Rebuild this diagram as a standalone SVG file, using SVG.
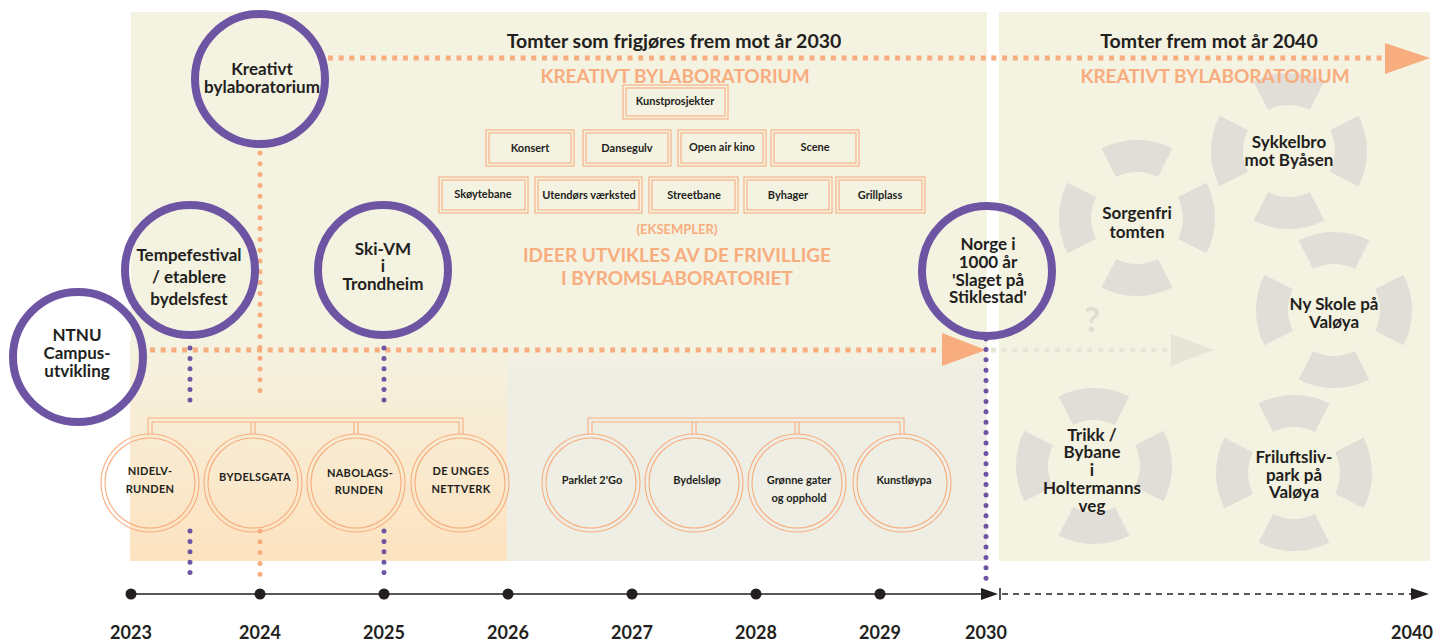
<svg xmlns="http://www.w3.org/2000/svg" width="1446" height="641" viewBox="0 0 1446 641">
<defs>
<style>
.t{font-family:Lato,"Liberation Sans",sans-serif;font-weight:700;fill:#231f20;text-anchor:middle}
.big{font-size:17px}
.ring{font-size:17px}
.box{font-size:11px}
.cap{font-size:11px;letter-spacing:0.3px}
.or{font-family:Lato,"Liberation Sans",sans-serif;font-weight:700;fill:#f8ad7f;text-anchor:middle}
.pc{fill:none;stroke:#6e55a4;stroke-width:8}
.dc{fill:none;stroke:#f8ad7f;stroke-width:1.1}
.seg{fill:none;stroke:#e1ddd7;stroke-width:32;stroke-dasharray:54 36;stroke-dashoffset:27}
.odash{fill:none;stroke:#f8ad7f;stroke-width:5;stroke-dasharray:5 5.7}
.pdot{fill:none;stroke:#6e55a4;stroke-width:5;stroke-linecap:round;stroke-dasharray:0 10.4}
.odot{fill:none;stroke:#f8ad7f;stroke-width:5;stroke-linecap:round;stroke-dasharray:0 10.8}
.yr{font-family:Lato,"Liberation Sans",sans-serif;font-weight:700;font-size:18px;fill:#231f20;text-anchor:middle}
</style>
<linearGradient id="gOr" x1="0" y1="0" x2="0" y2="1">
<stop offset="0" stop-color="#f4f2e1"/>
<stop offset="1" stop-color="#fde3c0"/>
</linearGradient>
<linearGradient id="gGr" x1="0" y1="0" x2="0" y2="1">
<stop offset="0" stop-color="#f4f2e1"/>
<stop offset="0.1" stop-color="#efeee4"/>
<stop offset="1" stop-color="#efeee4"/>
</linearGradient>
</defs>
<rect width="1446" height="641" fill="#ffffff"/>
<g id="backgrounds">
<rect x="131" y="12" width="856" height="549" fill="#f4f2e1"/>
<rect x="999" y="12" width="431" height="549" fill="#f4f2e1"/>
<rect x="130" y="340" width="377" height="221" fill="url(#gOr)"/>
<rect x="507" y="350" width="480" height="211" fill="url(#gGr)"/>
</g>

<g id="headings">
<text class="t" x="674" y="48" font-size="19.5">Tomter som frigjøres frem mot år 2030</text>
<text class="or" x="675" y="83" font-size="19">KREATIVT BYLABORATORIUM</text>
<text class="t" x="1209" y="48" font-size="19.5">Tomter frem mot år 2040</text>
<text class="or" x="677" y="234" font-size="13">(EKSEMPLER)</text>
<text class="or" x="677" y="262" font-size="19">IDEER UTVIKLES AV DE FRIVILLIGE</text>
<text class="or" x="677" y="285" font-size="19">I BYROMSLABORATORIET</text>
</g>

<g id="rings">
<g id="ring-sorgenfri"><circle class="seg" cx="1137" cy="218" r="62" pathLength="360"/>
<text class="t ring" x="1137" y="219">Sorgenfri</text><text class="t ring" x="1137" y="238">tomten</text></g>
<g id="ring-sykkelbro"><circle class="seg" cx="1289" cy="151" r="62" pathLength="360"/>
<text class="t ring" x="1289" y="148">Sykkelbro</text><text class="t ring" x="1289" y="166">mot Byåsen</text></g>
<g id="ring-nyskole"><circle class="seg" cx="1334" cy="310" r="62" pathLength="360"/>
<text class="t ring" x="1334" y="310">Ny Skole på</text><text class="t ring" x="1334" y="328">Valøya</text></g>
<g id="ring-trikk"><circle class="seg" cx="1094" cy="466" r="62" pathLength="360"/>
<text class="t ring" x="1092" y="441">Trikk /</text><text class="t ring" x="1092" y="458">Bybane</text><text class="t ring" x="1092" y="476">i</text><text class="t ring" x="1092" y="494">Holtermanns</text><text class="t ring" x="1092" y="512">veg</text></g>
<g id="ring-friluftsliv"><circle class="seg" cx="1294" cy="473" r="62" pathLength="360"/>
<text class="t ring" x="1294" y="463">Friluftsliv-</text><text class="t ring" x="1294" y="481">park på</text><text class="t ring" x="1294" y="498">Valøya</text></g>
</g>
<text class="or" x="1215" y="83" font-size="19">KREATIVT BYLABORATORIUM</text>
<text x="1092" y="332" font-family="Lato,'Liberation Sans',sans-serif" font-weight="700" font-size="34" fill="#e0ddd0" text-anchor="middle">?</text>

<g id="connectors">
<line class="odash" x1="328" y1="58" x2="1386" y2="58"/>
<polygon points="1385,43 1430,58 1385,74" fill="#f8ad7f"/>
<line class="odash" x1="150" y1="350" x2="943" y2="350"/>
<polygon points="942,333 986,350 942,366" fill="#f8ad7f"/>
<line x1="991" y1="350" x2="1168" y2="350" fill="none" stroke="#e7e5d6" stroke-width="5" stroke-dasharray="5 5.7"/>
<polygon points="1171,334 1214,350 1171,366" fill="#e7e5d6"/>
<line class="odot" x1="260" y1="153" x2="260" y2="401"/>
<line class="odot" x1="260" y1="531" x2="260" y2="580"/>
<line class="pdot" x1="190" y1="348" x2="190" y2="401"/>
<line class="pdot" x1="190" y1="531" x2="190" y2="580"/>
<line class="pdot" x1="384" y1="348" x2="384" y2="401"/>
<line class="pdot" x1="384" y1="531" x2="384" y2="580"/>
<line class="pdot" x1="986" y1="339" x2="986" y2="585"/>
<g fill="none" stroke="#f8ad7f" stroke-width="1.1">
<path d="M148,434 V418 H463 V434 M152,434 V422 H459 V434 M251,422 V434 M255,422 V434 M354,422 V434 M358,422 V434"/>
<path d="M588,434 V418 H904 V434 M592,434 V422 H900 V434 M692,422 V434 M696,422 V434 M795,422 V434 M799,422 V434"/>
</g>
</g>

<g id="purple-nodes">
<g id="n-kreativt"><circle class="pc" cx="260" cy="79" r="65"/>
<text class="t big" x="262" y="75">Kreativt</text><text class="t big" x="262" y="93">bylaboratorium</text></g>
<g id="n-tempe"><circle class="pc" cx="190" cy="270" r="65"/>
<text class="t big" x="189" y="261">Tempefestival</text><text class="t big" x="189" y="283">/ etablere</text><text class="t big" x="189" y="305">bydelsfest</text></g>
<g id="n-skivm"><circle class="pc" cx="383" cy="270" r="65"/>
<text class="t big" x="383" y="255">Ski-VM</text><text class="t big" x="383" y="272">i</text><text class="t big" x="383" y="290">Trondheim</text></g>
<g id="n-ntnu"><circle class="pc" cx="78" cy="357" r="65"/>
<text class="t big" x="77" y="341">NTNU</text><text class="t big" x="77" y="359">Campus-</text><text class="t big" x="77" y="377">utvikling</text></g>
<g id="n-norge"><circle class="pc" cx="987" cy="271" r="65"/>
<text class="t big" x="988" y="250">Norge i</text><text class="t big" x="988" y="268">1000 år</text><text class="t big" x="988" y="286">'Slaget på</text><text class="t big" x="988" y="303">Stiklestad'</text></g>
</g>

<g id="boxes">
<g id="b-kunst"><rect class="dc" x="623" y="85" width="105" height="34"/><rect class="dc" x="626" y="88" width="99" height="28"/><text class="t box" x="675" y="105">Kunstprosjekter</text></g>
<g id="b-konsert"><rect class="dc" x="486" y="130" width="88" height="36"/><rect class="dc" x="489" y="133" width="82" height="30"/><text class="t box" x="530" y="152">Konsert</text></g>
<g id="b-dansegulv"><rect class="dc" x="583" y="130" width="88" height="36"/><rect class="dc" x="586" y="133" width="82" height="30"/><text class="t box" x="627" y="152">Dansegulv</text></g>
<g id="b-openair"><rect class="dc" x="678" y="130" width="88" height="36"/><rect class="dc" x="681" y="133" width="82" height="30"/><text class="t box" x="722" y="151">Open air kino</text></g>
<g id="b-scene"><rect class="dc" x="771" y="130" width="88" height="36"/><rect class="dc" x="774" y="133" width="82" height="30"/><text class="t box" x="815" y="151">Scene</text></g>
<g id="b-skoyte"><rect class="dc" x="439" y="177" width="89" height="36"/><rect class="dc" x="442" y="180" width="83" height="30"/><text class="t box" x="483" y="198">Skøytebane</text></g>
<g id="b-utendors"><rect class="dc" x="535" y="177" width="107" height="36"/><rect class="dc" x="538" y="180" width="101" height="30"/><text class="t box" x="589" y="199">Utendørs værksted</text></g>
<g id="b-street"><rect class="dc" x="649" y="177" width="89" height="36"/><rect class="dc" x="652" y="180" width="83" height="30"/><text class="t box" x="694" y="199">Streetbane</text></g>
<g id="b-byhager"><rect class="dc" x="744" y="177" width="88" height="36"/><rect class="dc" x="747" y="180" width="82" height="30"/><text class="t box" x="788" y="199">Byhager</text></g>
<g id="b-grill"><rect class="dc" x="836" y="177" width="89" height="36"/><rect class="dc" x="839" y="180" width="83" height="30"/><text class="t box" x="880" y="199">Grillplass</text></g>
</g>

<g id="double-circles">
<g id="c-nidelv"><circle class="dc" cx="150" cy="483" r="49"/><circle class="dc" cx="150" cy="483" r="45"/><text class="t cap" x="150" y="475">NIDELV-</text><text class="t cap" x="150" y="493">RUNDEN</text></g>
<g id="c-bydelsgata"><circle class="dc" cx="253" cy="483" r="49"/><circle class="dc" cx="253" cy="483" r="45"/><text class="t cap" x="255" y="481">BYDELSGATA</text></g>
<g id="c-nabolags"><circle class="dc" cx="356" cy="483" r="49"/><circle class="dc" cx="356" cy="483" r="45"/><text class="t cap" x="360" y="477">NABOLAGS-</text><text class="t cap" x="359" y="494">RUNDEN</text></g>
<g id="c-unges"><circle class="dc" cx="460" cy="483" r="49"/><circle class="dc" cx="460" cy="483" r="45"/><text class="t cap" x="461" y="475">DE UNGES</text><text class="t cap" x="461" y="493">NETTVERK</text></g>
<g id="c-parklet"><circle class="dc" cx="591" cy="483" r="49"/><circle class="dc" cx="591" cy="483" r="45"/><text class="t box" x="592" y="484">Parklet 2'Go</text></g>
<g id="c-bydelslop"><circle class="dc" cx="694" cy="483" r="49"/><circle class="dc" cx="694" cy="483" r="45"/><text class="t box" x="697" y="484">Bydelsløp</text></g>
<g id="c-gronne"><circle class="dc" cx="797" cy="483" r="49"/><circle class="dc" cx="797" cy="483" r="45"/><text class="t box" x="799" y="484">Grønne gater</text><text class="t box" x="799" y="502">og opphold</text></g>
<g id="c-kunstloypa"><circle class="dc" cx="902" cy="483" r="49"/><circle class="dc" cx="902" cy="483" r="45"/><text class="t box" x="904" y="484">Kunstløypa</text></g>
</g>

<g id="timeline">
<line x1="131" y1="594" x2="982" y2="594" stroke="#231f20" stroke-width="1.5"/>
<polygon points="981,588 998,594 981,600" fill="#231f20"/>
<line x1="1000" y1="588" x2="1000" y2="600" stroke="#231f20" stroke-width="1.5"/>
<line x1="1002" y1="594" x2="1412" y2="594" stroke="#231f20" stroke-width="1.3" stroke-dasharray="6 5"/>
<polygon points="1411,588 1429,594 1411,600" fill="#231f20"/>
<g fill="#231f20">
<circle cx="131" cy="594" r="5.5"/><circle cx="260" cy="594" r="5.5"/><circle cx="384" cy="594" r="5.5"/><circle cx="508" cy="594" r="5.5"/><circle cx="632" cy="594" r="5.5"/><circle cx="756" cy="594" r="5.5"/><circle cx="880" cy="594" r="5.5"/>
</g>
<text class="yr" x="131" y="639">2023</text>
<text class="yr" x="260" y="639">2024</text>
<text class="yr" x="384" y="639">2025</text>
<text class="yr" x="508" y="639">2026</text>
<text class="yr" x="632" y="639">2027</text>
<text class="yr" x="756" y="639">2028</text>
<text class="yr" x="880" y="639">2029</text>
<text class="yr" x="986" y="639">2030</text>
<text class="yr" x="1412" y="639">2040</text>
</g>
</svg>
